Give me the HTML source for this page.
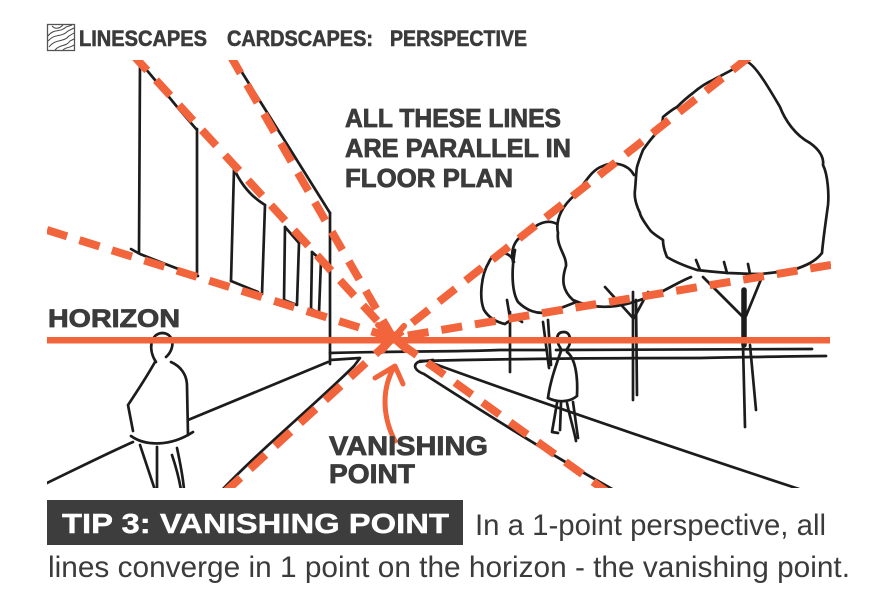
<!DOCTYPE html>
<html>
<head>
<meta charset="utf-8">
<style>
  html,body{margin:0;padding:0;background:#fff;}
  svg{display:block;}
  text{font-family:"Liberation Sans",Arial,sans-serif;}
</style>
</head>
<body>
<svg width="874" height="614" viewBox="0 0 874 614" xmlns="http://www.w3.org/2000/svg">
  <rect width="874" height="614" fill="#fff"/>
  <defs>
    <clipPath id="c"><rect x="47" y="60" width="784" height="428"/></clipPath>
  </defs>

  <!-- Header -->
  <rect x="47.5" y="24.5" width="27" height="26" fill="#fff" stroke="#555" stroke-width="1.3"/>
  <g fill="none" stroke="#444" stroke-width="1">
    <path d="M48,36 C54,28 60,33 66,27 L72,25"/>
    <path d="M48,41 C55,33 61,38 68,31 L74,28"/>
    <path d="M49,47 C56,38 63,43 69,36 L74,33"/>
    <path d="M55,50 C60,44 66,47 70,41 L74,39"/>
    <path d="M63,50 C66,47 70,48 74,45"/>
    <path d="M52,26 C56,30 60,28 63,25"/>
  </g>
  <g font-size="22" font-weight="bold" fill="#3b3b3b" stroke="#3b3b3b" stroke-width="0.6">
    <text x="79" y="46" textLength="128" lengthAdjust="spacingAndGlyphs">LINESCAPES</text>
    <text x="227" y="46" textLength="146" lengthAdjust="spacingAndGlyphs">CARDSCAPES:</text>
    <text x="390" y="46" textLength="137" lengthAdjust="spacingAndGlyphs">PERSPECTIVE</text>
  </g>

  <g clip-path="url(#c)">
    <!-- Sketch lines -->
    <g fill="none" stroke="#1c1c1c" stroke-width="2.7" stroke-linecap="round" stroke-linejoin="round">
      <!-- building -->
      <path d="M140,62 L160,86 L178,108 L197,130"/>
      <path d="M140,63 L139,252"/>
      <path d="M197,129 L197,276"/>
      <path d="M131,249 L140,254 C160,262 180,270 198,276"/>
      <path d="M234,169 L231,281"/>
      <path d="M234,169 C240,182 250,196 265,205"/>
      <path d="M265,205 L262,294"/>
      <path d="M231,281 L258,292"/>
      <path d="M285,227 L284,301"/>
      <path d="M285,227 L299,243"/>
      <path d="M299,243 L297,304"/>
      <path d="M284,300 L297,305"/>
      <path d="M312,252 L311,311"/>
      <path d="M312,252 L321,260"/>
      <path d="M321,260 L319,313"/>
      <path d="M311,309 L319,313"/>
      <path d="M233,58 L330,213"/>
      <path d="M330,213 L330,364"/>
      <!-- ground -->
      <path d="M330,353 C400,351 450,352 500,350 L545,350 M556,350 C650,349 740,349 812,349"/>
      <path d="M420,361 C500,359 600,358 700,358 C760,357 800,356 826,356"/>
      <path d="M47,483 C80,467 110,452 133,442"/>
      <path d="M188,420 C240,398 290,378 328,362"/>
      <path d="M330,360 L360,358 L354,366 C320,400 260,450 222,490"/>
      <path d="M433,360 L418,362 C412,366 416,371 424,374 C480,410 560,460 614,490"/>
      <path d="M432,363 C520,395 650,440 802,490"/>
      <!-- left person -->
      <path d="M156,362 C148,350 150,334 162,333 C174,333 176,348 166,357"/>
      <path d="M155,362 C146,378 136,393 128,405 L133,431"/>
      <path d="M171,362 C180,366 187,374 187,386 L188,435"/>
      <path d="M131,436 C145,446 170,447 193,432"/>
      <path d="M140,445 C145,460 150,475 155,490"/>
      <path d="M157,447 L157,490"/>
      <path d="M172,455 C176,467 179,478 181,490"/>
      <path d="M177,448 C180,462 183,476 184,490"/>
      <!-- right person -->
      <path d="M561,349 C555,340 556,332 564,332 C571,332 572,343 567,349"/>
      <path d="M561,351 C556,365 550,382 548,398"/>
      <path d="M567,352 C575,358 578,375 577,395"/>
      <path d="M548,398 C558,403 570,402 577,396"/>
      <path d="M557,403 L552,432 L558,433"/>
      <path d="M561,403 L560,430"/>
      <path d="M567,403 C570,418 574,430 576,441"/>
      <path d="M573,402 L578,438"/>
      <!-- tree 1 -->
      <path d="M514,262 C510,250 494,250 489,262 C481,275 479,298 484,310 C489,318 496,322 505,324 C511,319 518,318 522,322"/>
      <path d="M510,312 L510,372"/>
      <path d="M507,300 L510,318"/>
      <!-- tree 2 -->
      <path d="M513,262 C510,248 516,236 529,233 C536,223 548,219 557,224"/>
      <path d="M515,250 C511,272 512,292 518,302 C526,310 537,315 549,312 C559,309 566,306 576,302"/>
      <path d="M543,322 L549,368"/>
      <path d="M548,320 L551,365"/>
      <!-- tree 3 -->
      <path d="M634,175 C628,164 614,161 603,166 C591,170 586,182 575,195 C563,205 555,219 558,233 C556,246 567,256 566,266 C561,281 563,291 573,300 C586,306 601,308 616,306 C631,304 646,298 661,292 C673,286 681,281 691,277"/>
      <path d="M633,292 L633,400"/>
      <path d="M636,300 L637,395"/>
      <path d="M633,318 L605,287"/>
      <path d="M634,318 L648,292"/>
      <!-- tree 4 -->
      <path d="M747,62 C755,64 770,90 780,107 C785,120 795,135 810,143 C820,150 824,158 823,165 C828,175 829,195 828,205 C826,220 823,240 822,253 C815,262 805,266 793,270 C780,272 770,273 760,274 C745,274 735,273 728,273 C715,272 705,271 697,270 C685,266 675,262 667,257 C664,250 663,245 663,240 C657,236 652,233 650,230 C644,222 640,215 640,213 C636,205 634,197 635,190 C636,180 636,172 637,167 C639,160 641,155 643,150 C650,140 656,133 660,130 C662,124 663,119 663,117 C669,112 673,109 677,107 C684,100 689,96 693,93 C700,87 706,83 713,80 C720,76 725,74 737,67 L747,62"/>
      <path d="M744,290 L744,345" stroke-width="5.5"/>
      <path d="M743,345 L745,427"/>
      <path d="M750,345 L756,410"/>
      <path d="M744,318 L703,277"/>
      <path d="M746,316 L762,277"/>
      <path d="M727,273 L724,262 M750,274 L748,264 M700,270 L696,260"/>
    </g>

    <!-- Horizon -->
    <rect x="47" y="337" width="783" height="6.5" fill="#f2643b"/>

    <!-- Dashed convergence lines -->
    <g fill="none" stroke="#f2643b" stroke-width="8" stroke-dasharray="21 13">
      <path d="M133,55 L393,338"/>
      <path d="M230,55 L393,338"/>
      <path d="M47,230 L393,338"/>
      <path d="M749,57 L393,338"/>
      <path d="M831,265 L393,338"/>
      <path d="M225,492 L393,338"/>
      <path d="M610,494 L393,338"/>
    </g>

    <!-- Vanishing point X -->
    <g stroke="#f2643b" stroke-width="6" stroke-linecap="round" fill="none">
      <path d="M378,325 L406,350"/>
      <path d="M404,326 L382,351"/>
    </g>
    <!-- Arrow -->
    <g stroke="#f2643b" stroke-width="5" stroke-linecap="round" stroke-linejoin="round" fill="none">
      <path d="M395,441 C384,420 380,392 394,367"/>
      <path d="M375,378 L395,366 L403,384"/>
    </g>
  </g>

  <!-- Labels -->
  <g font-weight="bold" fill="#3b3b3b" stroke="#3b3b3b" stroke-width="0.8">
    <text x="345" y="127" font-size="26" textLength="216" lengthAdjust="spacingAndGlyphs">ALL THESE LINES</text>
    <text x="345" y="157" font-size="26" textLength="226" lengthAdjust="spacingAndGlyphs">ARE PARALLEL IN</text>
    <text x="345" y="187" font-size="26" textLength="168" lengthAdjust="spacingAndGlyphs">FLOOR PLAN</text>
    <text x="48" y="327" font-size="25" textLength="132" lengthAdjust="spacingAndGlyphs">HORIZON</text>
    <text x="329" y="455" font-size="27" textLength="159" lengthAdjust="spacingAndGlyphs">VANISHING</text>
    <text x="329" y="483" font-size="27" textLength="86" lengthAdjust="spacingAndGlyphs">POINT</text>
  </g>

  <!-- Bottom banner -->
  <rect x="47" y="500" width="416" height="45" fill="#3d3d3d"/>
  <text x="62" y="533" font-size="28" font-weight="bold" fill="#fff" stroke="#fff" stroke-width="0.4" textLength="387" lengthAdjust="spacingAndGlyphs">TIP 3: VANISHING POINT</text>
  <text x="475" y="535" font-size="30" fill="#3b3b3b" textLength="351" lengthAdjust="spacingAndGlyphs">In a 1-point perspective, all</text>
  <text x="48" y="577" font-size="30" fill="#3b3b3b" textLength="802" lengthAdjust="spacingAndGlyphs">lines converge in 1 point on the horizon - the vanishing point.</text>
</svg>
</body>
</html>
